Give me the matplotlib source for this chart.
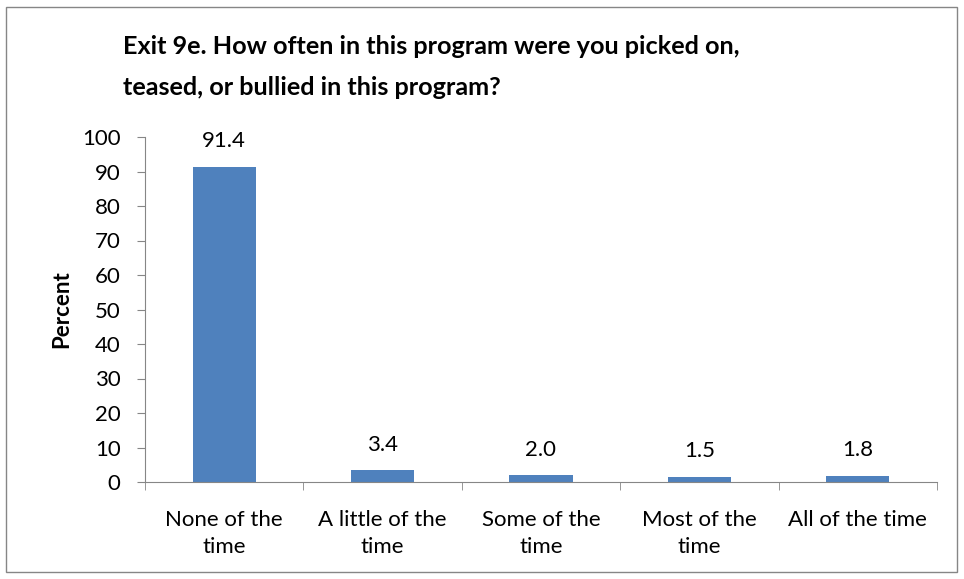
import matplotlib.pyplot as plt
import numpy as np

categories = ['None of the\ntime', 'A little of the\ntime', 'Some of the\ntime',
              'Most of the\ntime', 'All of the time']
percent = [91.4, 3.4, 2.0, 1.5, 1.8]

plt.rcParams['font.family'] = ['Lato', 'DejaVu Sans']

fig = plt.figure(figsize=(9.64, 5.79), dpi=100)
ax = fig.add_axes([145 / 964, 1 - 482 / 579, (937 - 145) / 964, (482 - 137) / 579])

x = np.arange(len(categories))
ax.bar(x, percent, width=0.4, color='#4F81BD')
for xi, v in zip(x, percent):
    ax.text(xi, v + 4.5, f'{v:.1f}', ha='center', va='bottom', fontsize=16)

ax.set_xlim(-0.5, len(categories) - 0.5)
ax.set_ylim(0, 100)
ax.set_yticks(range(0, 101, 10))
ax.tick_params(axis='y', labelsize=16, length=5.5, color='#868686', pad=12)
ax.set_xticks(x)
ax.set_xticklabels(categories, fontsize=16, linespacing=1.45)
ax.tick_params(axis='x', length=0, pad=20)
# category boundary ticks
ax.set_xticks(np.arange(-0.5, len(categories)), minor=True)
ax.tick_params(axis='x', which='minor', length=6, color='#868686')

for s in ['top', 'right']:
    ax.spines[s].set_visible(False)
ax.spines['left'].set_color('#868686')
ax.spines['bottom'].set_color('#868686')

ax.set_ylabel('Percent', fontsize=16, fontweight='bold', labelpad=7)

fig.text(123 / 964, 1 - 46 / 579, 'Exit 9e. How often in this program were you picked on,',
         fontsize=18.2, fontweight='bold', ha='left', va='center')
fig.text(123 / 964, 1 - 88 / 579, 'teased, or bullied in this program?',
         fontsize=18.2, fontweight='bold', ha='left', va='center')

# chart border
border = plt.Rectangle((6 / 964, 7 / 579), 951 / 964, 565 / 579, transform=fig.transFigure,
                       fill=False, edgecolor='#868686', linewidth=1)
fig.patches.append(border)

fig.savefig('out.png', dpi=100)
